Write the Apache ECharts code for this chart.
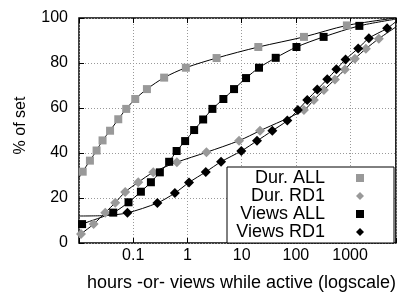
<!DOCTYPE html>
<html>
<head>
<meta charset="utf-8">
<script src="https://cdn.jsdelivr.net/npm/echarts@6/dist/echarts.min.js"></script>
<style>
  html, body { margin: 0; padding: 0; background: #fff; }
  #chart { width: 399px; height: 299px; }
</style>
</head>
<body>
<div id="chart"></div>
<script>
// values (x = hours or views, y = % of set)
const seriesNames = ["Dur. ALL", "Dur. RD1", "Views ALL", "Views RD1"];
const xTickLabels = ["0.1", "1", "10", "100", "1000"];

const durAllX = [0.0117, 0.0159, 0.0211, 0.0272, 0.0374, 0.053, 0.0743, 0.109, 0.179, 0.372, 0.935, 3.45, 20.3, 141, 873];
const durAllY = [31.7, 36.6, 41.1, 45.6, 49.9, 55.0, 59.6, 64.0, 68.4, 73.5, 77.9, 82.2, 87.1, 91.6, 96.7];
const durAllLead = [[0.01, 29]];
const durAllTail = [[7000, 100]];

const durRd1X = [0.0109, 0.0186, 0.0305, 0.0466, 0.0712, 0.124, 0.234, 0.638, 2.24, 8.96, 21.8, 141, 215, 329, 525, 802, 1225, 1955, 3390];
const durRd1Y = [4.0, 8.4, 13.5, 17.9, 22.7, 27.0, 31.4, 35.9, 40.3, 45.5, 49.9, 59.1, 63.6, 68.0, 72.7, 77.1, 81.9, 86.3, 90.8];
const durRd1Lead = [[0.01, 3]];
const durRd1Tail = [[7000, 96]];

const viewsAllX = [0.0114, 0.0428, 0.0819, 0.1386, 0.212, 0.31, 0.46, 0.632, 0.907, 1.33, 1.95, 2.89, 4.6, 7.24, 12.05, 20.9, 42.5, 102.6, 325, 1483];
const viewsAllY = [8.4, 13.5, 18.1, 22.8, 27.0, 31.4, 36.1, 40.9, 45.3, 50.2, 54.9, 59.6, 64.0, 68.4, 73.3, 77.9, 82.3, 87.1, 91.6, 96.5];
const viewsAllLead = [[0.01, 7.5]];
const viewsAllTail = [[7000, 99.5]];

const viewsRd1X = [0.0782, 0.279, 0.586, 1.07, 2.18, 4.17, 9.87, 19.2, 36.8, 69.5, 109, 162, 248, 379, 559, 826, 1410, 2220, 4820];
const viewsRd1Y = [13.4, 17.8, 22.2, 26.9, 31.6, 36.1, 40.9, 45.4, 49.9, 54.4, 59.1, 63.6, 68.2, 72.8, 77.2, 81.6, 86.5, 91.0, 95.4];
const viewsRd1Lead = [[0.01, 12], [0.03, 12.2]];
const viewsRd1Tail = [[7000, 98.4]];

const font = "Liberation Sans";
const gray = "#999999";

const buildData = (lead, xs, ys, tail) => {
  const bare = (p) => ({ value: p, symbol: "none" });
  return lead.map(bare)
    .concat(xs.map((x, i) => [x, ys[i]]))
    .concat(tail.map(bare));
};

const makeSeries = (name, data, symbol, size, color) => ({
  name: name,
  type: "line",
  data: data,
  smooth: 0.3,
  symbol: symbol,
  symbolSize: size,
  showAllSymbol: true,
  lineStyle: { color: "#000", width: 1 },
  itemStyle: { color: color },
  emphasis: { disabled: true },
  animation: false,
});

const xLabel = (v) => {
  const e = Math.log10(v);
  const r = Math.round(e);
  if (Math.abs(e - r) > 1e-6) return "";
  const i = r + 1;
  return i >= 0 && i < xTickLabels.length ? xTickLabels[i] : "";
};

const chart = echarts.init(document.getElementById("chart"));

const option = {
  animation: false,
  textStyle: { fontFamily: font },
  grid: {
    left: 79, right: 1, top: 18, bottom: 56,
    show: true, borderColor: "#000", borderWidth: 1.5,
  },
  legend: {
    orient: "vertical",
    align: "right",
    right: 5,
    top: 167,
    padding: [2, 30, 2, 8],
    itemGap: 0,
    itemWidth: 8,
    itemHeight: 8,
    borderColor: "#000",
    borderWidth: 1,
    backgroundColor: "#fff",
    selectedMode: false,
    textStyle: {
      fontFamily: font, fontSize: 18, color: "#000",
      width: 90, overflow: "none", lineHeight: 17,
      padding: [0, 26, 0, 0],
    },
    data: [
      { name: seriesNames[0], icon: "rect" },
      { name: seriesNames[1], icon: "diamond" },
      { name: seriesNames[2], icon: "rect" },
      { name: seriesNames[3], icon: "diamond" },
    ],
  },
  xAxis: [
    {
      type: "log",
      logBase: 10,
      min: 0.01,
      max: 7000,
      name: "hours -or- views while active (logscale)",
      nameLocation: "middle",
      nameGap: 31,
      nameTextStyle: { fontFamily: font, fontSize: 18, color: "#000", padding: [0, 0, 0, 8] },
      axisLine: { show: false },
      axisTick: { inside: true, length: 5, lineStyle: { color: "#000" } },
      axisLabel: { fontFamily: font, fontSize: 16, color: "#000", margin: 5, formatter: xLabel },
      splitLine: { show: true, lineStyle: { color: gray, type: [1, 2], width: 1 } },
      minorTick: { show: false },
    },
    {
      type: "log",
      logBase: 10,
      min: 0.01,
      max: 7000,
      position: "top",
      axisLine: { show: false },
      axisTick: { inside: true, length: 5, lineStyle: { color: "#000" } },
      axisLabel: { show: false },
      splitLine: { show: false },
    },
  ],
  yAxis: {
    type: "value",
    min: 0,
    max: 100,
    interval: 20,
    name: "% of set",
    nameLocation: "middle",
    nameGap: 50,
    nameTextStyle: { fontFamily: font, fontSize: 16, color: "#000", padding: [0, 0, 0, 10] },
    axisLine: { show: false },
    axisTick: { show: true, inside: true, length: 5, lineStyle: { color: "#000" } },
    axisLabel: { fontFamily: font, fontSize: 16, color: "#000", margin: 11 },
    splitLine: { show: true, lineStyle: { color: gray, type: [1, 2], width: 1 } },
  },
  series: [
    makeSeries(seriesNames[0], buildData(durAllLead, durAllX, durAllY, durAllTail), "rect", 8, gray),
    makeSeries(seriesNames[1], buildData(durRd1Lead, durRd1X, durRd1Y, durRd1Tail), "diamond", 10, gray),
    makeSeries(seriesNames[2], buildData(viewsAllLead, viewsAllX, viewsAllY, viewsAllTail), "rect", 8, "#000"),
    makeSeries(seriesNames[3], buildData(viewsRd1Lead, viewsRd1X, viewsRd1Y, viewsRd1Tail), "diamond", 10, "#000"),
  ],
};

chart.setOption(option);
</script>
</body>
</html>
